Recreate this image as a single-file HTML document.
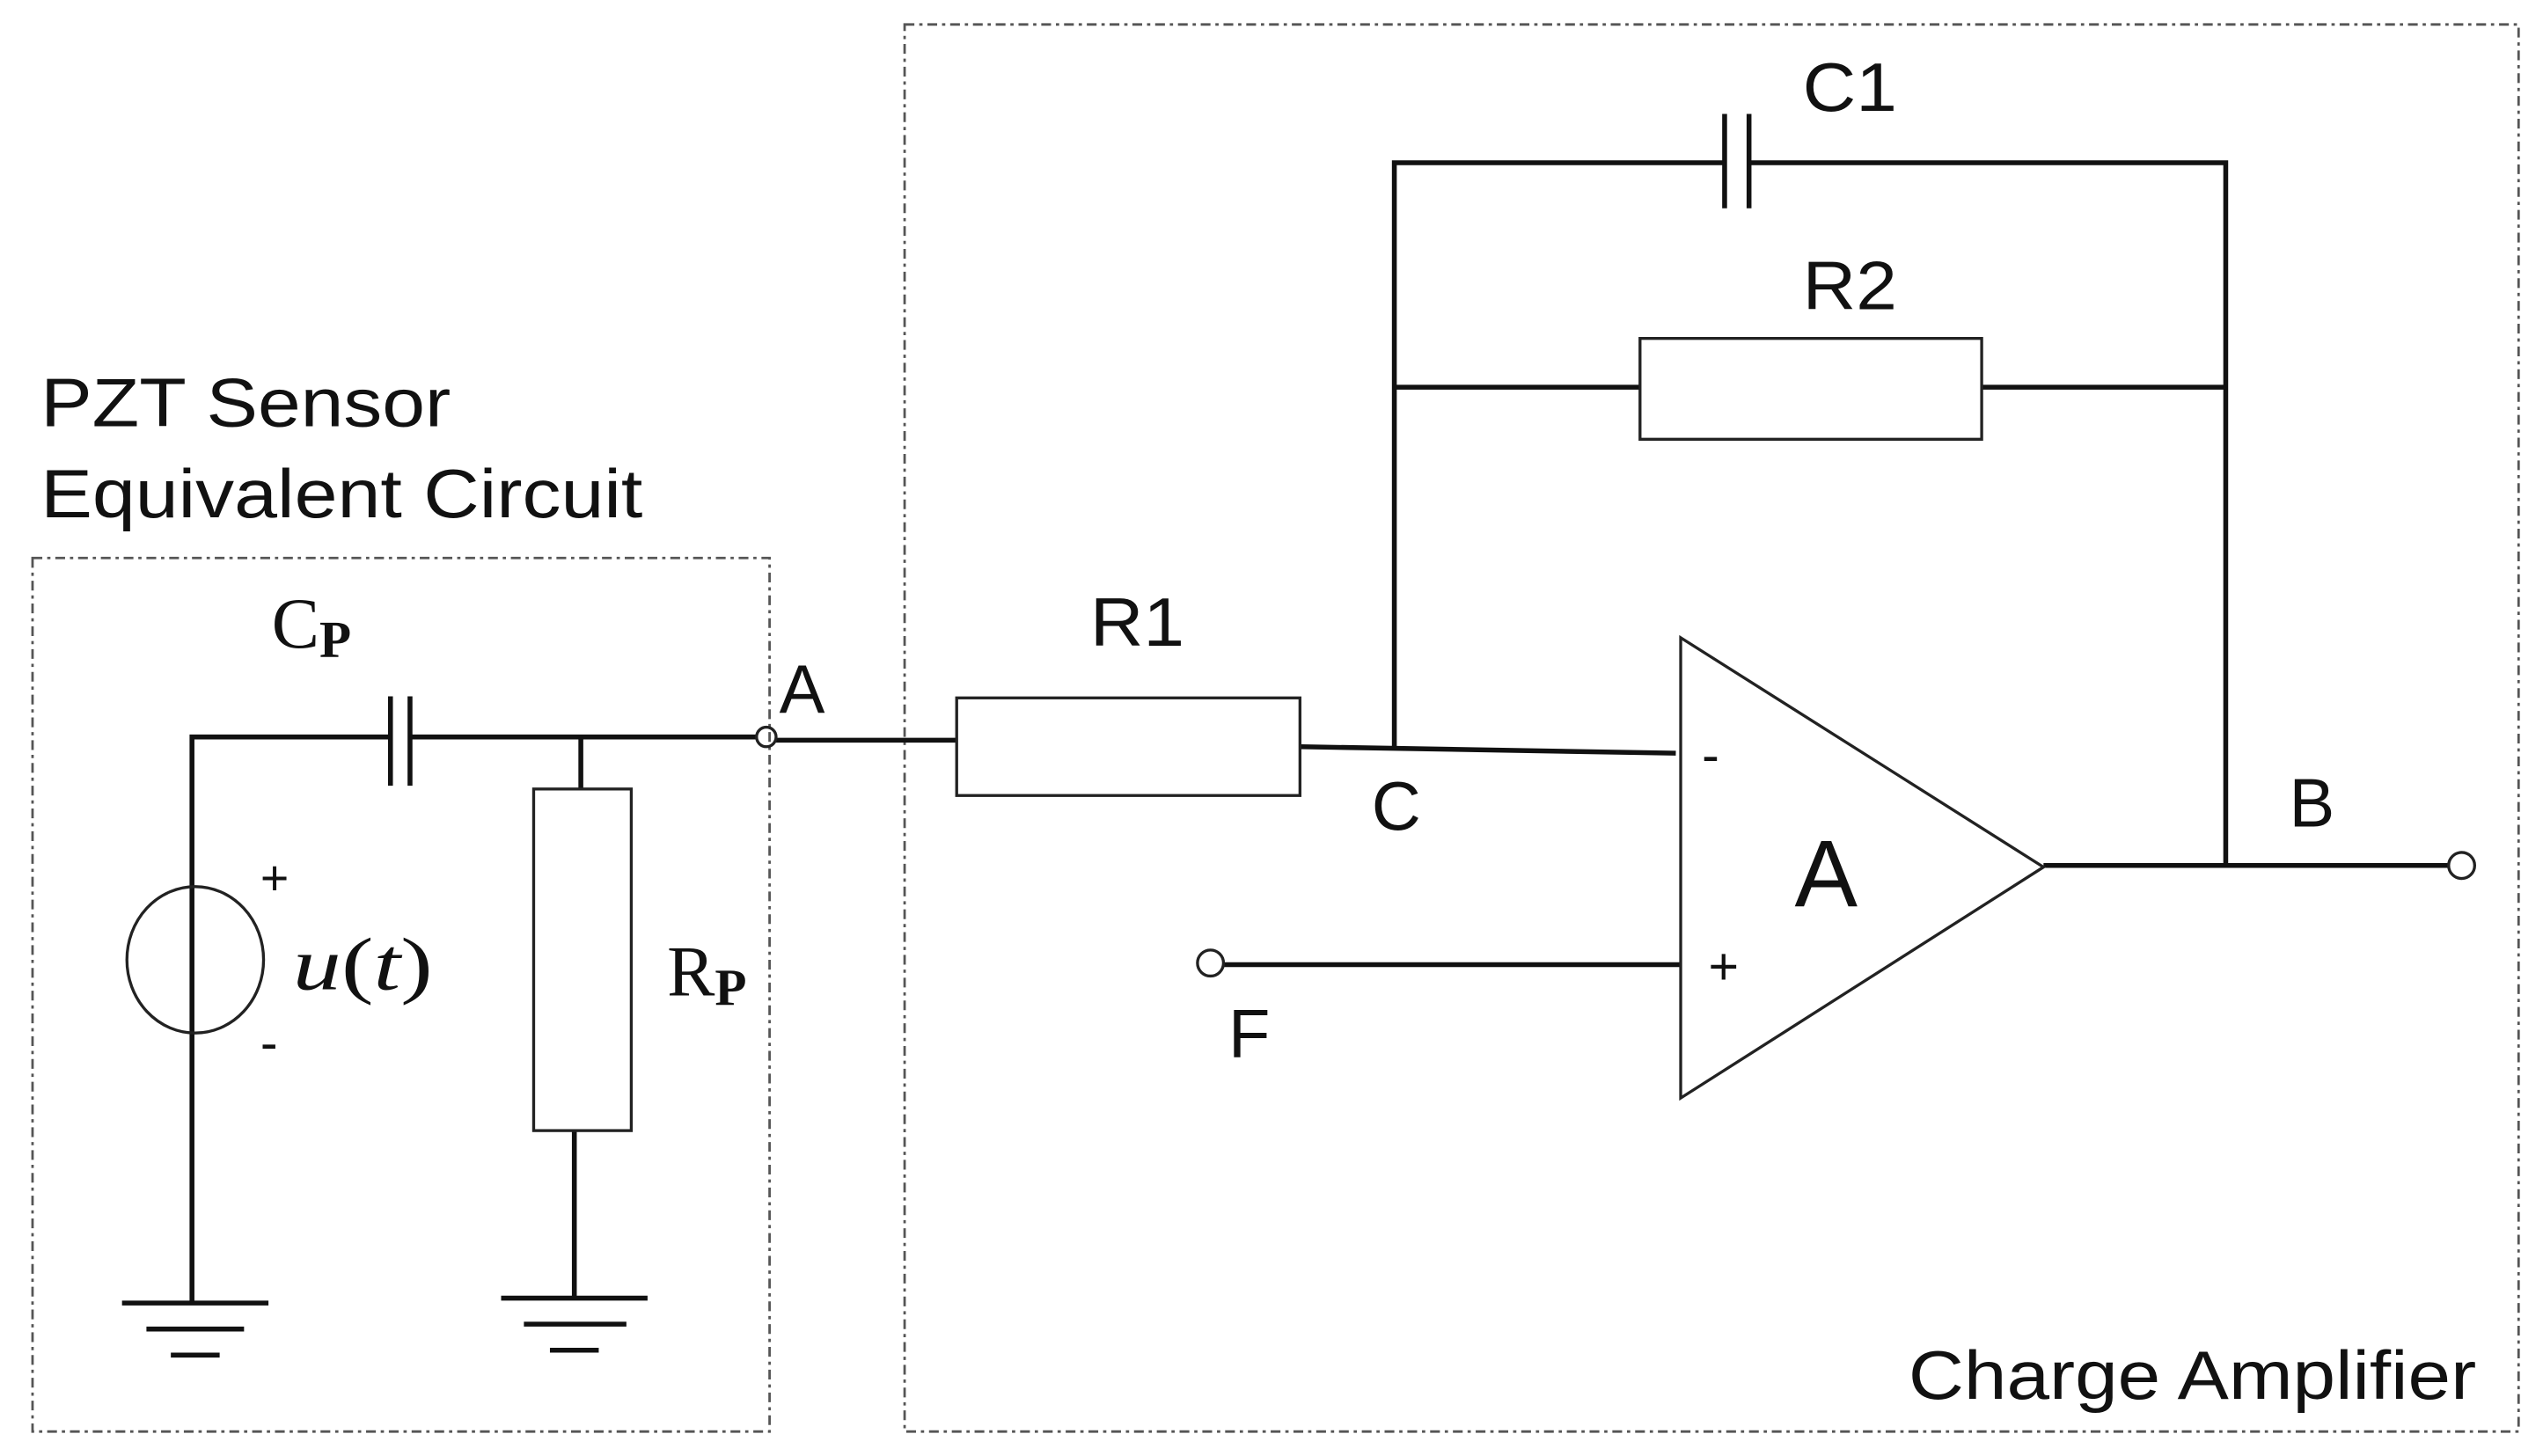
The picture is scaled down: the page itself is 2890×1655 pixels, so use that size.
<!DOCTYPE html>
<html><head><meta charset="utf-8"><style>html,body{margin:0;padding:0;background:#fff}svg{display:block}</style></head>
<body>
<svg width="2890" height="1655" viewBox="0 0 1563 895" xmlns="http://www.w3.org/2000/svg" font-family="Liberation Sans, sans-serif">
<rect width="1563" height="895" fill="#fff"/>
<g fill="none" stroke="#555" stroke-width="1.5" stroke-dasharray="6,3,2,3">
<rect x="20" y="343" width="453" height="537"/>
<rect x="556" y="15" width="992" height="865"/>
</g>
<g fill="#111" font-size="42">
<text x="25" y="262" textLength="252" lengthAdjust="spacingAndGlyphs">PZT Sensor</text>
<text x="25" y="318" textLength="370" lengthAdjust="spacingAndGlyphs">Equivalent Circuit</text>
<text x="479" y="438">A</text>
<text x="670" y="397" textLength="58" lengthAdjust="spacingAndGlyphs">R1</text>
<text x="843" y="510">C</text>
<text x="1108" y="68" textLength="58" lengthAdjust="spacingAndGlyphs">C1</text>
<text x="1108" y="190" textLength="58" lengthAdjust="spacingAndGlyphs">R2</text>
<text x="1407" y="508">B</text>
<text x="755" y="650">F</text>
<text x="1173" y="860" textLength="349" lengthAdjust="spacingAndGlyphs">Charge Amplifier</text>
<text x="1103" y="557" font-size="58">A</text>
<text x="1046" y="475" font-size="32">-</text>
<text x="1050" y="605" font-size="32">+</text>
<text x="160" y="550" font-size="30">+</text>
<text x="160" y="652" font-size="32">-</text>
</g>
<g fill="#111" font-family="Liberation Serif, serif" font-size="44">
<text x="167" y="398">C<tspan font-size="32" font-weight="bold" dy="6">P</tspan></text>
<text x="410" y="612">R<tspan font-size="32" font-weight="bold" dy="6">P</tspan></text>
<text x="180" y="608" font-size="46" textLength="86" lengthAdjust="spacingAndGlyphs"><tspan font-style="italic">u</tspan>(<tspan font-style="italic">t</tspan>)</text>
</g>
<g stroke="#111" stroke-width="3" fill="none">
<polyline points="118,800 118,453 240,453"/>
<line x1="240" y1="428" x2="240" y2="483"/>
<line x1="252" y1="428" x2="252" y2="483"/>
<line x1="252" y1="453" x2="465" y2="453"/>
<line x1="357" y1="453" x2="357" y2="485"/>
<line x1="353" y1="695" x2="353" y2="798"/>
<line x1="75" y1="801" x2="165" y2="801"/>
<line x1="90" y1="817" x2="150" y2="817"/>
<line x1="105" y1="833" x2="135" y2="833"/>
<line x1="308" y1="798" x2="398" y2="798"/>
<line x1="322" y1="814" x2="385" y2="814"/>
<line x1="338" y1="830" x2="368" y2="830"/>
<line x1="477" y1="455" x2="588" y2="455"/>
<line x1="799" y1="459" x2="1030" y2="463"/>
<polyline points="857,459 857,100 1060,100"/>
<line x1="1060" y1="70" x2="1060" y2="128"/>
<line x1="1075" y1="70" x2="1075" y2="128"/>
<polyline points="1075,100 1368,100 1368,532"/>
<line x1="857" y1="238" x2="1008" y2="238"/>
<line x1="1218" y1="238" x2="1368" y2="238"/>
<line x1="1256" y1="532" x2="1505" y2="532"/>
<line x1="752" y1="593" x2="1033" y2="593"/>
</g>
<g stroke="#222" stroke-width="1.8" fill="none">
<ellipse cx="120" cy="590" rx="42" ry="45"/>
<rect x="328" y="485" width="60" height="210"/>
<rect x="588" y="429" width="211" height="60"/>
<rect x="1008" y="208" width="210" height="62"/>
<polygon points="1033,392 1033,675 1256,533"/>
<circle cx="471" cy="453" r="6"/>
<circle cx="1513" cy="532" r="8"/>
<circle cx="744" cy="592" r="8"/>
</g>
</svg>
</body></html>
